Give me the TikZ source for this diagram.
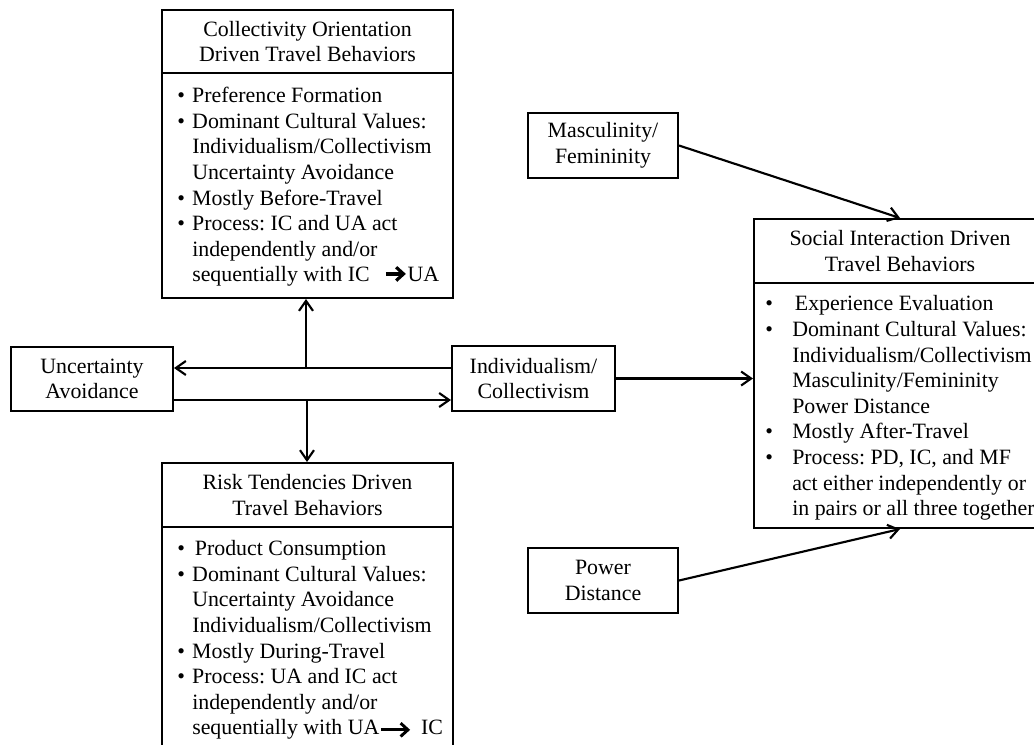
\documentclass[tikz,border=0pt]{standalone}
\usepackage{fontspec}
\setmainfont{Liberation Serif}
\usetikzlibrary{arrows.meta,calc}
\frenchspacing
\newcommand\fs{\fontsize{16.4pt}{19.2pt}\selectfont}
\newcommand\bul{\makebox[11.25pt][l]{\textbullet}}
\newcommand\hang{\hspace*{11.25pt}}
\newcommand\sbul{\makebox[20.25pt][l]{\textbullet}}
\newcommand\shang{\hspace*{20.25pt}}
\newcommand\txtarrowA{\tikz[baseline=-0.8ex]\draw[line width=2.4pt,-{Straight Barb[length=5.5pt,width=10pt]}] (0pt,0pt) -- (15pt,0pt);}
\newcommand\txtarrowB{\tikz[baseline=-0.5ex]\draw[line width=2.2pt,-{Straight Barb[length=5.5pt,width=10pt]}] (0pt,0pt) -- (22pt,0pt);}
\tikzset{
  box/.style={draw, line width=1.5pt, inner sep=0pt, align=center, font=\fs},
  textblock/.style={inner sep=0pt, align=left, font=\fs, anchor=west},
  arr/.style={line width=1.6pt, -{Straight Barb[length=7.5pt,width=10.5pt]}},
}
\begin{document}
\begin{tikzpicture}[x=0.75pt,y=-0.75pt]
\useasboundingbox (0,0) rectangle (1034,744);
\clip (0,0) rectangle (1034,744);
% small boxes
\node[box, minimum width=121.5pt, minimum height=48pt] (ua) at (92,379) {Uncertainty\\Avoidance};
\node[box, minimum width=122.25pt, minimum height=48.75pt] (ic) at (533.5,378.5) {Individualism/\\Collectivism};
\node[box, minimum width=112.5pt, minimum height=48.75pt] (mf) at (603,145.5) {Masculinity/\\Femininity};
\node[box, minimum width=112.5pt, minimum height=48.75pt] (pd) at (603,580.5) {Power\\Distance};
% collectivity orientation box
\node[box, minimum width=218.25pt, minimum height=47.25pt] (cotitle) at (307.5,41.5) {Collectivity Orientation\\Driven Travel Behaviors};
\node[box, minimum width=218.25pt, minimum height=168.75pt] (cobody) at (307.5,185.5) {};
\node[textblock] (cotext) at (177,187) {%
\bul Preference Formation\\
\bul Dominant Cultural Values:\\
\hang Individualism/Collectivism\\
\hang Uncertainty Avoidance\\
\bul Mostly Before-Travel\\
\bul Process: IC and UA act\\
\hang independently and/or\\
\hang sequentially with IC\hspace{11pt}\txtarrowA UA};
% risk tendencies box
\node[box, minimum width=218.25pt, minimum height=48pt] (rttitle) at (307.5,495) {Risk Tendencies Driven\\Travel Behaviors};
\node[box, minimum width=218.25pt, minimum height=164.25pt] (rtbody) at (307.5,636.5) {};
\node[textblock] (rttext) at (177,640) {%
\bul\hspace{2pt}Product Consumption\\
\bul Dominant Cultural Values:\\
\hang Uncertainty Avoidance\\
\hang Individualism/Collectivism\\
\bul Mostly During-Travel\\
\bul Process: UA and IC act\\
\hang independently and/or\\
\hang sequentially with UA\txtarrowB\hspace{7pt}IC};
% social interaction box
\node[box, minimum width=219pt, minimum height=48pt] (sititle) at (900,251) {Social Interaction Driven\\Travel Behaviors};
\node[box, minimum width=219pt, minimum height=183.75pt] (sibody) at (900,405.5) {};
\node[textblock] (sitext) at (765,408) {%
\sbul\hspace{2pt}Experience Evaluation\\
\sbul Dominant Cultural Values:\\
\shang Individualism/Collectivism\\
\shang Masculinity/Femininity\\
\shang Power Distance\\
\sbul Mostly After-Travel\\
\sbul Process: PD, IC, and MF\\
\shang act either independently or\\
\shang in pairs or all three together};
% connectors
\coordinate (j1) at (306,368);
\coordinate (j2) at (307,400);
\draw[arr] (ic.west |- j1) -- (ua.east |- j1);
\draw[arr] (ua.east |- j2) -- (ic.west |- j2);
\draw[arr] (j1) -- (cobody.south -| j1);
\draw[arr] (j2) -- (rttitle.north -| j2);
\draw[arr] (ic.east) -- (sibody.west |- ic.east);
\draw[arr] (mf.east) -- (sititle.north);
\draw[arr] (pd.east) -- (sibody.south);
\end{tikzpicture}
\end{document}
